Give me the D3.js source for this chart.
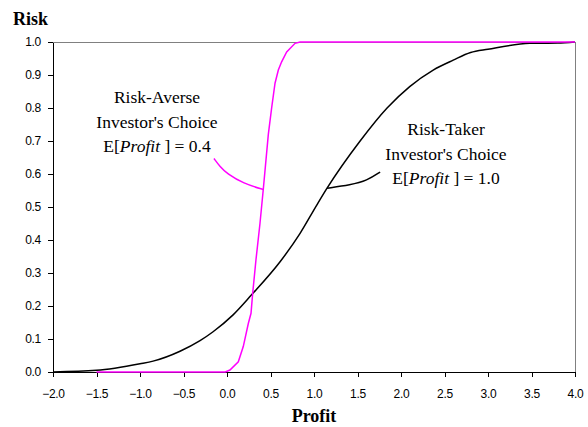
<!DOCTYPE html>
<html>
  <head>
    <meta charset="utf-8">
    <style>
      body { margin: 0; background: #fff; }
      .axis text { font: 12px Arial, "Liberation Sans", sans-serif; fill: #000; letter-spacing: -0.3px; }
      .axis path, .axis line { fill: none; stroke: #000; shape-rendering: crispEdges; }
      .note { font: 17.5px "Times New Roman", "Liberation Serif", serif; fill: #000; }
    </style>
    <script src="https://cdnjs.cloudflare.com/ajax/libs/d3/7.8.5/d3.min.js"></script>
  </head>
  <body>
    <svg class="chart"></svg>
    <script>
      // profit / risk pairs
      const takerProfit = [-2.0, -1.5, -1.0, -0.85, -0.54, -0.31, -0.16, 0.07, 0.28, 0.61, 0.84, 1.03, 1.15, 1.53, 1.84, 2.10, 2.37, 2.6, 2.8, 3.0, 3.48, 3.8, 4.0];
      const takerRisk   = [0.0, 0.005, 0.025, 0.033, 0.063, 0.095, 0.122, 0.173, 0.233, 0.334, 0.42, 0.505, 0.557, 0.70, 0.80, 0.865, 0.915, 0.945, 0.968, 0.978, 0.996, 0.997, 1.0];

      const averseProfit = [-1.5, -0.02, 0.034, 0.13, 0.187, 0.245, 0.276, 0.295, 0.333, 0.379, 0.418, 0.475, 0.513, 0.552, 0.59, 0.628, 0.686, 0.782, 0.84, 4.0];
      const averseRisk   = [0.0, 0.0, 0.006, 0.031, 0.077, 0.147, 0.178, 0.238, 0.34, 0.45, 0.556, 0.72, 0.80, 0.875, 0.915, 0.94, 0.97, 0.996, 1.0, 1.0];

      // leader lines from the labels to the curves
      const takerLeadX = [1.15, 1.42, 1.61, 1.76];
      const takerLeadY = [0.557, 0.567, 0.58, 0.606];
      const averseLeadX = [0.418, 0.19, 0.0, -0.08, -0.15];
      const averseLeadY = [0.553, 0.571, 0.601, 0.622, 0.647];

      const xTicks = [-2.0, -1.5, -1.0, -0.5, 0.0, 0.5, 1.0, 1.5, 2.0, 2.5, 3.0, 3.5, 4.0];
      const yTicks = [0.0, 0.1, 0.2, 0.3, 0.4, 0.5, 0.6, 0.7, 0.8, 0.9, 1.0];

      const W = 588, H = 427;
      const margin = {top: 42, right: 13, bottom: 55, left: 53};
      const width = W - margin.left - margin.right,
            height = H - margin.top - margin.bottom;

      const svg = d3.select(".chart").attr("width", W).attr("height", H);
      const g = svg.append("g").attr("transform", `translate(${margin.left}, ${margin.top})`);

      const x = d3.scaleLinear().domain([-2, 4]).range([0, width]);
      const y = d3.scaleLinear().domain([0, 1]).range([height, 0]);

      // top and right frame
      g.append("path")
        .attr("d", `M0,0.5H${width}V${height}`)
        .attr("fill", "none")
        .attr("stroke", "#808080")
        .attr("stroke-width", 1)
        .attr("shape-rendering", "crispEdges");

      g.append("g").attr("class", "axis")
        .attr("transform", `translate(0, ${height})`)
        .call(d3.axisBottom(x).tickValues(xTicks).tickFormat(d3.format(".1f")).tickSize(5).tickSizeOuter(0).tickPadding(12));

      g.append("g").attr("class", "axis")
        .call(d3.axisLeft(y).tickValues(yTicks).tickFormat(d3.format(".1f")).tickSize(5).tickSizeOuter(0).tickPadding(7));

      const line = d3.line().x(d => x(d[0])).y(d => y(d[1]));
      const smooth = d3.line().x(d => x(d[0])).y(d => y(d[1])).curve(d3.curveMonotoneX);

      g.append("path")
        .datum(d3.zip(takerProfit, takerRisk))
        .attr("d", smooth)
        .attr("fill", "none").attr("stroke", "#000").attr("stroke-width", 1.5);

      g.append("path")
        .datum(d3.zip(takerLeadX, takerLeadY))
        .attr("d", d3.line().x(d => x(d[0])).y(d => y(d[1])).curve(d3.curveBasis))
        .attr("fill", "none").attr("stroke", "#000").attr("stroke-width", 1.5);

      g.append("path")
        .datum(d3.zip(averseProfit, averseRisk))
        .attr("d", line)
        .attr("fill", "none").attr("stroke", "#ff00ff").attr("stroke-width", 1.5);

      g.append("path")
        .datum(d3.zip(averseLeadX, averseLeadY))
        .attr("d", d3.line().x(d => x(d[0])).y(d => y(d[1])).curve(d3.curveBasis))
        .attr("fill", "none").attr("stroke", "#ff00ff").attr("stroke-width", 1.5);

      // labels
      function note(cx, baseY, lines, val) {
        const t = svg.append("g").attr("class", "note").attr("text-anchor", "middle");
        t.append("text").attr("x", cx).attr("y", baseY).text(lines[0]);
        t.append("text").attr("x", cx).attr("y", baseY + 24.5).text(lines[1]);
        const e = t.append("text").attr("x", cx).attr("y", baseY + 49);
        e.append("tspan").text("E[");
        e.append("tspan").attr("font-style", "italic").text("Profit");
        e.append("tspan").text(" ] = " + val);
      }
      note(157, 103, ["Risk-Averse", "Investor's Choice"], "0.4");
      note(446, 135, ["Risk-Taker", "Investor's Choice"], "1.0");

      svg.append("text")
        .attr("x", 13).attr("y", 25)
        .attr("font-family", "'Times New Roman', 'Liberation Serif', serif")
        .attr("font-weight", "bold").attr("font-size", 18)
        .text("Risk");

      svg.append("text")
        .attr("x", margin.left + width / 2).attr("y", 422)
        .attr("text-anchor", "middle")
        .attr("font-family", "'Times New Roman', 'Liberation Serif', serif")
        .attr("font-weight", "bold").attr("font-size", 18)
        .text("Profit");
    </script>
  </body>
</html>
